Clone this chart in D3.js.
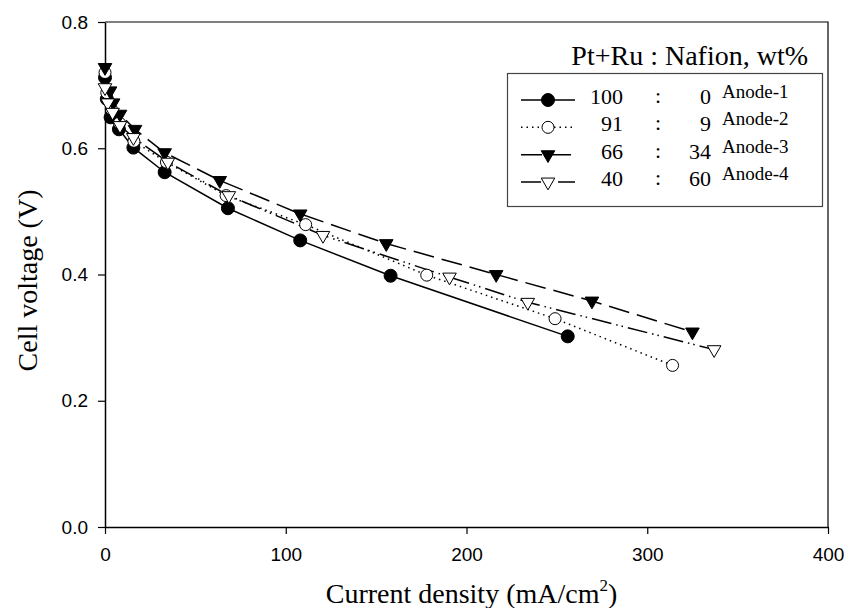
<!DOCTYPE html>
<html>
<head>
<meta charset="utf-8">
<script src="https://cdn.jsdelivr.net/npm/d3@7"></script>
<style>
  body { margin: 0; background: #fff; }
  svg { display: block; }
</style>
</head>
<body>
<div id="chart"></div>
<script>
// data: current density (mA/cm2) and cell voltage (V)
const anode1X = [0, 1, 3.1, 7.7, 15.7, 33, 68, 108, 158, 256];
const anode1V = [0.712, 0.678, 0.649, 0.630, 0.601, 0.562, 0.505, 0.454, 0.398, 0.302];
const anode2X = [0, 1, 3.5, 8, 16, 34, 67, 111, 178, 249, 314];
const anode2V = [0.720, 0.688, 0.662, 0.640, 0.611, 0.578, 0.525, 0.479, 0.399, 0.330, 0.256];
const anode3X = [0, 2.8, 4.5, 8.3, 16.6, 33, 63.5, 108, 155.6, 216.4, 269.4, 325];
const anode3V = [0.728, 0.691, 0.672, 0.654, 0.630, 0.593, 0.549, 0.496, 0.449, 0.400, 0.358, 0.309];
const anode4X = [0, 1.5, 4.2, 8.3, 15.7, 34.8, 68.5, 120.6, 190.6, 233.9, 337];
const anode4V = [0.696, 0.672, 0.657, 0.636, 0.617, 0.578, 0.525, 0.462, 0.396, 0.356, 0.281];

const seriesNames = ["Anode-1", "Anode-2", "Anode-3", "Anode-4"];
const ptRu = ["100", "91", "66", "40"];
const nafion = ["0", "9", "34", "60"];
const xTicks = [0, 100, 200, 300, 400];
const yTicks = [0.0, 0.2, 0.4, 0.6, 0.8];

const width = 846, height = 608;
const marginTop = 22, marginRight = 18, marginBottom = 81, marginLeft = 105;
const serif = "'Liberation Serif', 'Times New Roman', Times, serif";
const sans = "'Liberation Sans', Arial, Helvetica, sans-serif";

const series = [
  {name: seriesNames[0], X: anode1X, V: anode1V, dash: null, symbol: "circle", fill: "#000"},
  {name: seriesNames[1], X: anode2X, V: anode2V, dash: "1.5,4", symbol: "circle", fill: "#fff"},
  {name: seriesNames[2], X: anode3X, V: anode3V, dash: "21,8", symbol: "tri", fill: "#000"},
  {name: seriesNames[3], X: anode4X, V: anode4V, dash: "20,5,1.5,4,1.5,5", symbol: "tri", fill: "#fff"}
];

const x = d3.scaleLinear([0, 400], [marginLeft, width - marginRight]);
const y = d3.scaleLinear([0, 0.8], [height - marginBottom, marginTop]);

const svg = d3.select("#chart")
  .append("svg")
    .attr("width", width)
    .attr("height", height)
    .attr("viewBox", [0, 0, width, height]);

// frame (top and right)
svg.append("path")
    .attr("fill", "none")
    .attr("stroke", "#000")
    .attr("stroke-width", 1.2)
    .attr("d", `M${x(0)},${y(0.8)}H${x(400)}V${y(0)}`);

svg.append("g")
    .attr("transform", `translate(0,${y(0)})`)
    .call(d3.axisBottom(x).tickValues(xTicks).tickSize(7).tickSizeOuter(0).tickPadding(14))
    .call(g => g.select(".domain").attr("stroke-width", 1.5))
    .call(g => g.selectAll(".tick line").attr("stroke-width", 1.2))
    .call(g => g.selectAll(".tick text")
        .attr("font-family", sans)
        .attr("font-size", 19));

svg.append("g")
    .attr("transform", `translate(${x(0)},0)`)
    .call(d3.axisLeft(y).tickValues(yTicks).tickFormat(d3.format(".1f")).tickSize(7).tickSizeOuter(0).tickPadding(10))
    .call(g => g.select(".domain").attr("stroke-width", 1.5))
    .call(g => g.selectAll(".tick line").attr("stroke-width", 1.2))
    .call(g => g.selectAll(".tick text")
        .attr("font-family", sans)
        .attr("font-size", 19));

// axis titles
const xt = svg.append("text")
    .attr("x", (x(0) + x(400)) / 2 + 5)
    .attr("y", 603)
    .attr("text-anchor", "middle")
    .attr("font-family", serif)
    .attr("font-size", 28);
xt.append("tspan").text("Current density (mA/cm");
xt.append("tspan").attr("font-size", 17).attr("dy", -12).text("2");
xt.append("tspan").attr("dy", 12).text(")");

svg.append("text")
    .attr("transform", `translate(37,${(y(0) + y(0.8)) / 2 + 6}) rotate(-90)`)
    .attr("text-anchor", "middle")
    .attr("font-family", serif)
    .attr("font-size", 28)
    .text("Cell voltage (V)");

const line = d3.line();

function marker(sel, s) {
  if (s.symbol === "circle") {
    sel.append("circle")
        .attr("r", s.fill === "#000" ? 6.5 : 6)
        .attr("fill", s.fill)
        .attr("stroke", "#000")
        .attr("stroke-width", 1);
  } else {
    sel.append("path")
        .attr("d", d3.symbol(d3.symbolTriangle, 80)())
        .attr("transform", "rotate(180)")
        .attr("fill", s.fill)
        .attr("stroke", "#000")
        .attr("stroke-width", 1);
  }
}

// curves
series.forEach(s => {
  svg.append("path")
      .attr("fill", "none")
      .attr("stroke", "#000")
      .attr("stroke-width", 1.5)
      .attr("stroke-dasharray", s.dash)
      .attr("d", line(s.X.map((d, i) => [x(d), y(s.V[i])])));
});

series.forEach(s => {
  svg.append("g")
    .selectAll("g")
    .data(d3.range(s.X.length))
    .join("g")
      .attr("transform", i => `translate(${x(s.X[i])},${y(s.V[i])})`)
      .each(function () { marker(d3.select(this), s); });
});

// legend
svg.append("text")
    .attr("x", 808)
    .attr("y", 65)
    .attr("text-anchor", "end")
    .attr("font-family", serif)
    .attr("font-size", 28)
    .text("Pt+Ru : Nafion, wt%");

svg.append("rect")
    .attr("x", 507.5)
    .attr("y", 73.5)
    .attr("width", 315)
    .attr("height", 133)
    .attr("fill", "#fff")
    .attr("stroke", "#444")
    .attr("stroke-width", 1.2);

const rowY = d3.scalePoint(seriesNames, [100, 182]);

const row = svg.append("g")
  .selectAll("g")
  .data(series)
  .join("g")
    .attr("transform", s => `translate(0,${rowY(s.name)})`);

row.append("path")
    .attr("fill", "none")
    .attr("stroke", "#000")
    .attr("stroke-width", 1.5)
    .attr("stroke-dasharray", s => s.dash)
    .attr("d", "M521,0H575");

row.append("g")
    .attr("transform", "translate(548,0)")
    .each(function (s) { marker(d3.select(this), s); });

row.append("text")
    .attr("x", 623)
    .attr("y", 4)
    .attr("text-anchor", "end")
    .attr("font-family", serif)
    .attr("font-size", 22)
    .text((s, i) => ptRu[i]);

row.append("text")
    .attr("x", 658)
    .attr("y", 3)
    .attr("text-anchor", "middle")
    .attr("font-family", serif)
    .attr("font-size", 22)
    .text(":");

row.append("text")
    .attr("x", 711)
    .attr("y", 4)
    .attr("text-anchor", "end")
    .attr("font-family", serif)
    .attr("font-size", 22)
    .text((s, i) => nafion[i]);

row.append("text")
    .attr("x", 722)
    .attr("y", -2)
    .attr("font-family", serif)
    .attr("font-size", 19)
    .text(s => s.name);
</script>
</body>
</html>
